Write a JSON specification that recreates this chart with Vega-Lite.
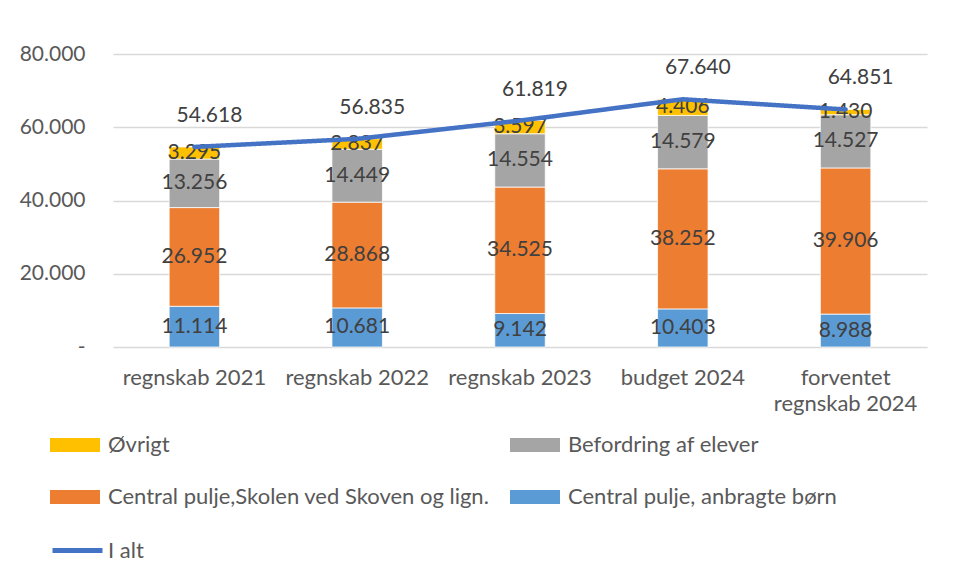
{
  "$schema": "https://vega.github.io/schema/vega-lite/v6.json",
  "width": 814,
  "height": 293,
  "autosize": {"type": "none"},
  "padding": {"left": 113, "top": 54, "right": 30, "bottom": 238},
  "background": "white",
  "config": {
    "view": {"stroke": null},
    "font": "Lato",
    "locale": {"number": {"decimal": ",", "thousands": ".", "grouping": [3], "currency": ["", ""]}}
  },
  "datasets": {
    "segments": [
      {"cat": "regnskab 2021", "serie": "Central pulje, anbragte børn", "value": 11114},
      {"cat": "regnskab 2021", "serie": "Central pulje,Skolen ved Skoven og lign.", "value": 26952},
      {"cat": "regnskab 2021", "serie": "Befordring af elever", "value": 13256},
      {"cat": "regnskab 2021", "serie": "Øvrigt", "value": 3295},
      {"cat": "regnskab 2022", "serie": "Central pulje, anbragte børn", "value": 10681},
      {"cat": "regnskab 2022", "serie": "Central pulje,Skolen ved Skoven og lign.", "value": 28868},
      {"cat": "regnskab 2022", "serie": "Befordring af elever", "value": 14449},
      {"cat": "regnskab 2022", "serie": "Øvrigt", "value": 2837},
      {"cat": "regnskab 2023", "serie": "Central pulje, anbragte børn", "value": 9142},
      {"cat": "regnskab 2023", "serie": "Central pulje,Skolen ved Skoven og lign.", "value": 34525},
      {"cat": "regnskab 2023", "serie": "Befordring af elever", "value": 14554},
      {"cat": "regnskab 2023", "serie": "Øvrigt", "value": 3597},
      {"cat": "budget 2024", "serie": "Central pulje, anbragte børn", "value": 10403},
      {"cat": "budget 2024", "serie": "Central pulje,Skolen ved Skoven og lign.", "value": 38252},
      {"cat": "budget 2024", "serie": "Befordring af elever", "value": 14579},
      {"cat": "budget 2024", "serie": "Øvrigt", "value": 4406},
      {"cat": "forventet regnskab 2024", "serie": "Central pulje, anbragte børn", "value": 8988},
      {"cat": "forventet regnskab 2024", "serie": "Central pulje,Skolen ved Skoven og lign.", "value": 39906},
      {"cat": "forventet regnskab 2024", "serie": "Befordring af elever", "value": 14527},
      {"cat": "forventet regnskab 2024", "serie": "Øvrigt", "value": 1430}
    ],
    "totals": [
      {"cat": "regnskab 2021", "total": 54618},
      {"cat": "regnskab 2022", "total": 56835},
      {"cat": "regnskab 2023", "total": 61819},
      {"cat": "budget 2024", "total": 67640},
      {"cat": "forventet regnskab 2024", "total": 64851}
    ]
  },
  "encoding": {
    "x": {
      "field": "cat",
      "type": "nominal",
      "sort": ["regnskab 2021", "regnskab 2022", "regnskab 2023", "budget 2024", "forventet regnskab 2024"],
      "scale": {"paddingInner": 0.69, "paddingOuter": 0.345},
      "axis": {
        "title": null,
        "labelAngle": 0,
        "domain": false,
        "ticks": false,
        "labelFontSize": 22,
        "labelColor": "#595959",
        "labelPadding": 20,
        "labelLineHeight": 26,
        "labelLimit": 0,
        "labelExpr": "datum.label == 'forventet regnskab 2024' ? ['forventet', 'regnskab 2024'] : datum.label"
      }
    }
  },
  "layer": [
    {
      "data": {"name": "segments"},
      "transform": [
        {"calculate": "indexof(['Central pulje, anbragte børn','Central pulje,Skolen ved Skoven og lign.','Befordring af elever','Øvrigt'], datum.serie)", "as": "o"},
        {"stack": "value", "groupby": ["cat"], "sort": [{"field": "o", "order": "ascending"}], "as": ["v0", "v1"]}
      ],
      "mark": {"type": "bar", "stroke": "white", "strokeWidth": 0.75},
      "encoding": {
        "y": {
          "field": "v0",
          "type": "quantitative",
          "scale": {"domain": [0, 80000], "nice": false},
          "axis": {
            "title": null,
            "values": [0, 20000, 40000, 60000, 80000],
            "format": ",d",
            "labelExpr": "datum.value == 0 ? '-' : datum.label",
            "domain": false,
            "ticks": false,
            "labelFontSize": 21,
            "labelColor": "#595959",
            "labelPadding": 28,
            "grid": true,
            "gridColor": "#D9D9D9",
            "gridWidth": 1.5
          }
        },
        "y2": {"field": "v1"},
        "color": {
          "field": "serie",
          "type": "nominal",
          "scale": {
            "domain": ["Øvrigt", "Befordring af elever", "Central pulje,Skolen ved Skoven og lign.", "Central pulje, anbragte børn"],
            "range": ["#FFC000", "#A5A5A5", "#ED7D31", "#5B9BD5"]
          },
          "legend": {
            "title": null,
            "orient": "none",
            "legendX": -63,
            "legendY": 366,
            "columns": 2,
            "direction": "horizontal",
            "columnPadding": 20,
            "rowPadding": 16,
            "padding": 0,
            "symbolSize": 2500,
            "symbolType": "M-1,-0.28H1V0.28H-1Z",
            "symbolStrokeWidth": 0,
            "labelFontSize": 22,
            "labelColor": "#595959",
            "labelOffset": 8,
            "labelLimit": 0
          }
        }
      }
    },
    {
      "data": {"name": "segments"},
      "transform": [
        {"calculate": "indexof(['Central pulje, anbragte børn','Central pulje,Skolen ved Skoven og lign.','Befordring af elever','Øvrigt'], datum.serie)", "as": "o"},
        {"stack": "value", "groupby": ["cat"], "sort": [{"field": "o", "order": "ascending"}], "as": ["v0", "v1"]},
        {"calculate": "(datum.v0 + datum.v1) / 2", "as": "mid"}
      ],
      "mark": {"type": "text", "fontSize": 21, "color": "#404040", "baseline": "middle", "align": "center"},
      "encoding": {
        "y": {"field": "mid", "type": "quantitative"},
        "text": {"field": "value", "type": "quantitative", "format": ",d"}
      }
    },
    {
      "data": {"name": "totals"},
      "mark": {"type": "line", "strokeWidth": 4.5, "strokeCap": "round", "strokeJoin": "round", "color": "#4472C4"},
      "encoding": {
        "y": {"field": "total", "type": "quantitative"},
        "strokeDash": {
          "datum": "I alt",
          "type": "nominal",
          "scale": {"domain": ["I alt"], "range": [[1, 0]]},
          "legend": {
            "title": null,
            "orient": "none",
            "legendX": -63,
            "legendY": 469,
            "padding": 0,
            "symbolType": "stroke",
            "symbolSize": 2500,
            "symbolStrokeColor": "#4472C4",
            "symbolStrokeWidth": 5,
            "labelFontSize": 22,
            "labelColor": "#595959",
            "labelOffset": 3,
            "labelLimit": 0
          }
        }
      }
    },
    {
      "data": {"name": "totals"},
      "mark": {"type": "text", "fontSize": 21, "color": "#404040", "baseline": "middle", "align": "center", "dx": 15, "dy": -31},
      "encoding": {
        "y": {"field": "total", "type": "quantitative"},
        "text": {"field": "total", "type": "quantitative", "format": ",d"}
      }
    }
  ]
}
